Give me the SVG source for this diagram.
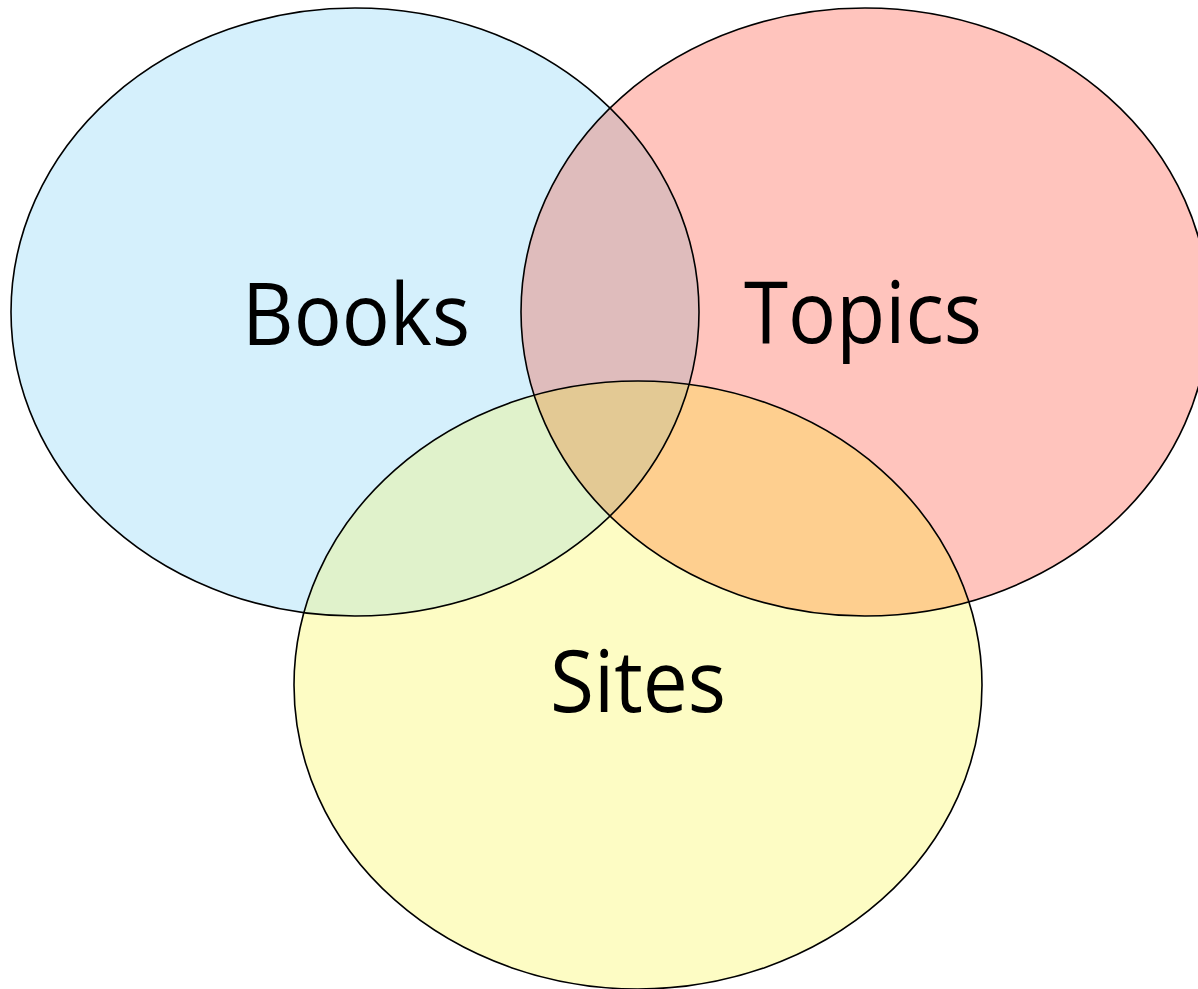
<svg xmlns="http://www.w3.org/2000/svg" width="1198" height="989" viewBox="0 0 1198 989">
<style>
.outline{fill:none;stroke:#000;stroke-width:1.6}
.label{font-family:"Open Sans","Liberation Sans",sans-serif;font-size:86px;fill:#000;text-anchor:middle}
</style>
<defs>
<clipPath id="clipB"><ellipse cx="355" cy="312" rx="344" ry="304"/></clipPath>
<clipPath id="clipT"><ellipse cx="865" cy="312" rx="344" ry="304"/></clipPath>
</defs>
<rect width="1198" height="989" fill="#fff"/>
<g id="books"><ellipse cx="355" cy="312" rx="344" ry="304" fill="#d5f0fc"/></g>
<g id="topics"><ellipse cx="865" cy="312" rx="344" ry="304" fill="#ffc4bd"/></g>
<g id="sites"><ellipse cx="638" cy="685" rx="344" ry="304" fill="#fdfcc4"/></g>
<g id="overlaps">
<ellipse cx="865" cy="312" rx="344" ry="304" fill="#dfbcbc" clip-path="url(#clipB)"/>
<ellipse cx="638" cy="685" rx="344" ry="304" fill="#e0f2cb" clip-path="url(#clipB)"/>
<ellipse cx="638" cy="685" rx="344" ry="304" fill="#fecf8f" clip-path="url(#clipT)"/>
<g clip-path="url(#clipB)"><ellipse cx="638" cy="685" rx="344" ry="304" fill="#e3c994" clip-path="url(#clipT)"/></g>
</g>
<g id="outlines">
<ellipse class="outline" cx="355" cy="312" rx="344" ry="304"/>
<ellipse class="outline" cx="865" cy="312" rx="344" ry="304"/>
<ellipse class="outline" cx="638" cy="685" rx="344" ry="304"/>
</g>
<g id="labels">
<text class="label" x="356" y="345" textLength="228" lengthAdjust="spacingAndGlyphs">Books</text>
<text class="label" x="863" y="343" textLength="238" lengthAdjust="spacingAndGlyphs">Topics</text>
<text class="label" x="638" y="712" textLength="176" lengthAdjust="spacingAndGlyphs">Sites</text>
</g>
</svg>
